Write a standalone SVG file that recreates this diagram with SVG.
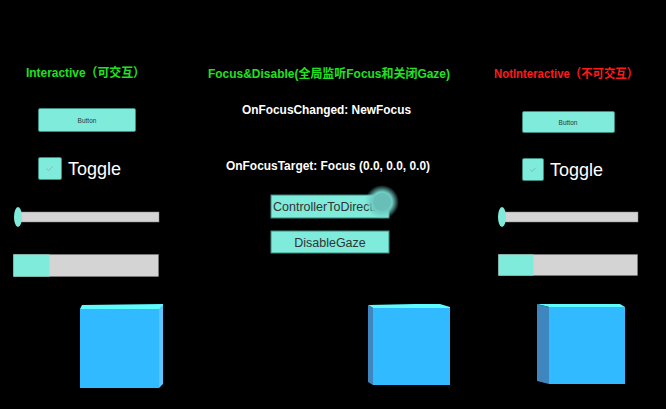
<svg xmlns="http://www.w3.org/2000/svg" width="666" height="409" viewBox="0 0 666 409">
<defs>
<style>
.t{font-family:"Liberation Sans","Noto Sans CJK SC",sans-serif;font-weight:bold;font-size:12.5px}
.btn{fill:#7FEBDA;stroke:#3d8a80;stroke-width:1}
.small{font-family:"Liberation Sans",sans-serif;font-size:6.5px;fill:#2a3a38}
.lbl{font-family:"Liberation Sans",sans-serif;font-size:12.5px;fill:#333}
.tg{font-family:"Liberation Sans",sans-serif;font-size:18px;fill:#fff}
.track{fill:#D4D4D4;stroke:#888;stroke-width:0.5}
.teal{fill:#7FEBDA}
.front{fill:#31BAFF}
.top{fill:#5EFBFF}
.side{fill:#3F86BE}
.rside{fill:#5BC4FF}
</style>
<radialGradient id="glow" cx="0.5" cy="0.5" r="0.5">
<stop offset="0" stop-color="#6FCBC3"/>
<stop offset="0.6" stop-color="#6FCBC3"/>
<stop offset="1" stop-color="#6FCBC3" stop-opacity="0"/>
</radialGradient>
<clipPath id="cb"><rect x="271" y="195" width="118" height="23"/></clipPath>
</defs>
<rect width="666" height="409" fill="#000"/>

<g id="title-left"><text class="t" x="26" y="77" fill="#22E022" textLength="119" lengthAdjust="spacingAndGlyphs">Interactive（可交互）</text></g>
<g id="title-center"><text class="t" x="208" y="78" fill="#22E022" textLength="242" lengthAdjust="spacingAndGlyphs">Focus&amp;Disable(全局监听Focus和关闭Gaze)</text></g>
<g id="title-right"><text class="t" x="494" y="78" fill="#FF1A1A" textLength="144" lengthAdjust="spacingAndGlyphs">NotInteractive（不可交互）</text></g>

<g id="focus-changed"><text class="t" x="242" y="114" fill="#fff" textLength="169" lengthAdjust="spacingAndGlyphs">OnFocusChanged: NewFocus</text></g>
<g id="focus-target"><text class="t" x="226" y="170" fill="#fff" textLength="204" lengthAdjust="spacingAndGlyphs">OnFocusTarget: Focus (0.0, 0.0, 0.0)</text></g>

<g id="button-left">
<rect class="btn" x="38.5" y="108.5" width="97" height="23" rx="1.5"/>
<text class="small" x="87" y="122.5" text-anchor="middle">Button</text>
</g>
<g id="toggle-left">
<rect class="btn" x="38.5" y="157.5" width="23" height="22" rx="1.5"/>
<path d="M46.5 168.5 l2 2 l4 -4" fill="none" stroke="#8aa" stroke-width="0.8"/>
<text class="tg" x="68" y="175">Toggle</text>
</g>
<g id="slider-left">
<rect class="track" x="19" y="212" width="140" height="10"/>
<ellipse cx="18" cy="217" rx="4" ry="10" class="teal"/>
</g>
<g id="progress-left">
<rect class="track" x="13.5" y="254.5" width="145" height="22"/>
<rect class="teal" x="13.5" y="254.5" width="36" height="22"/>
</g>
<g id="cube-left">
<polygon class="top" points="82,305 163,304 163,309 80,309"/>
<polygon class="rside" points="159,309 163,305 163,384 159,388"/>
<rect class="front" x="80" y="309" width="79" height="79"/>
</g>

<g id="button-ctd">
<rect class="btn" x="271" y="195" width="118" height="23"/>
<text class="lbl" x="273" y="211" clip-path="url(#cb)">ControllerToDirection</text>
</g>
<g id="button-disable">
<rect class="btn" x="271" y="231" width="118" height="22"/>
<text class="lbl" x="330" y="247" text-anchor="middle">DisableGaze</text>
</g>
<g id="gaze-cursor">
<circle cx="382" cy="202" r="17" fill="url(#glow)"/>
<circle cx="382" cy="202" r="9" fill="#68BFB8"/>
</g>
<g id="cube-center">
<polygon class="top" points="368,305 415,304 440,304 450,307 450,308 373,308"/>
<polygon class="side" points="368,305 373,308 373,385 368,382"/>
<rect class="front" x="373" y="308" width="77" height="77"/>
</g>

<g id="button-right">
<rect class="btn" x="522.5" y="111.5" width="92" height="21" rx="1.5"/>
<text class="small" x="568" y="124.5" text-anchor="middle">Button</text>
</g>
<g id="toggle-right">
<rect class="btn" x="522.5" y="158.5" width="21" height="22" rx="1.5"/>
<path d="M530 169.5 l2 2 l4 -4" fill="none" stroke="#8aa" stroke-width="0.8"/>
<text class="tg" x="550" y="176">Toggle</text>
</g>
<g id="slider-right">
<rect class="track" x="503" y="212" width="135" height="10"/>
<ellipse cx="502" cy="217" rx="4" ry="10" class="teal"/>
</g>
<g id="progress-right">
<rect class="track" x="498.5" y="254.5" width="139" height="21"/>
<rect class="teal" x="498.5" y="254.5" width="35" height="21"/>
</g>
<g id="cube-right">
<polygon class="top" points="537,304 620,304 625,307 549,307"/>
<polygon class="side" points="537,304 549,307 549,384 537,381"/>
<rect class="front" x="549" y="307" width="76" height="77"/>
</g>
</svg>
